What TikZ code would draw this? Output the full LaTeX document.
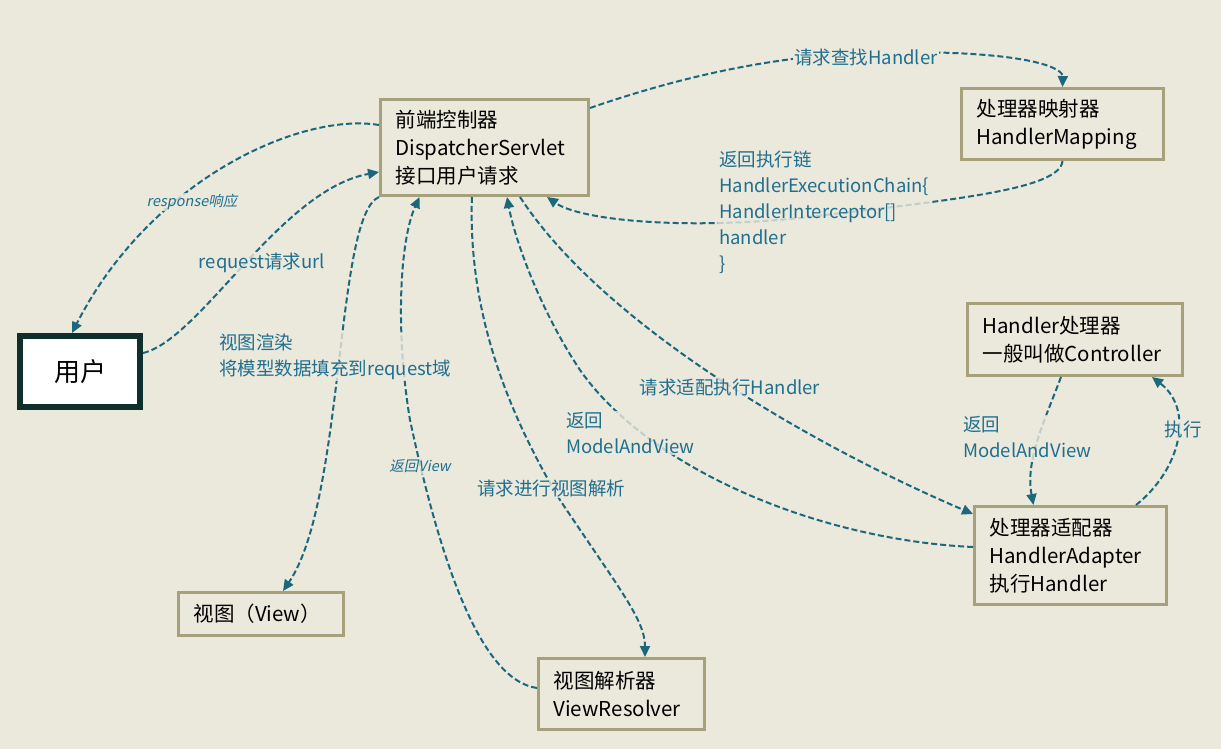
\documentclass[tikz,border=0pt]{standalone}
\usepackage{fontspec}
\setmainfont{Noto Sans CJK SC}
\newfontfamily\slantfont[FakeSlant=0.2]{Noto Sans CJK SC}
\usetikzlibrary{arrows.meta}
\definecolor{paper}{HTML}{EBE8DC}
\definecolor{boxline}{HTML}{A7A17B}
\definecolor{userline}{HTML}{0E2F2B}
\definecolor{flowline}{HTML}{1B687D}
\definecolor{flowtext}{HTML}{1F6F8F}
\tikzset{
  box/.style={draw=boxline, line width=3pt, align=left, inner xsep=15pt, inner ysep=0pt,
    font=\fontsize{20.5}{28}\selectfont},
  flow/.style={draw=flowline, line width=2pt, dash pattern=on 6pt off 3pt,
    -{Triangle[length=11pt,width=10pt]}},
  flowlabel/.style={text=flowtext, align=left, inner sep=1pt, fill=paper, fill opacity=0.8,
    text opacity=1, font=\fontsize{18.5}{26}\selectfont},
  smalllabel/.style={text=flowtext, inner sep=1pt, fill=paper, fill opacity=0.8,
    text opacity=1, font=\slantfont\fontsize{14.5}{16}\selectfont}
}
\begin{document}
\begin{tikzpicture}[x=1pt,y=-1pt]
\fill[paper] (0,0) rectangle (1221,749);
\useasboundingbox (0,0) rectangle (1221,749);
\node[box, text width=178pt, minimum height=96pt] (ds) at (484.5,147.5) {前端控制器\\DispatcherServlet\\接口用户请求};
\node[box, text width=172pt, minimum height=71pt] (hm) at (1062.5,124) {处理器映射器\\HandlerMapping};
\node[draw=userline, fill=white, line width=6pt, minimum width=120pt, minimum height=71pt,
  font=\fontsize{26}{28}\selectfont] (user) at (80,371.5) {用户};
\node[box, text width=185pt, minimum height=72pt] (hp) at (1075,339.5) {Handler处理器\\一般叫做Controller};
\node[box, text width=162pt, minimum height=98pt] (ha) at (1070.5,555.5) {处理器适配器\\HandlerAdapter\\执行Handler};
\node[box, text width=135pt, minimum height=43pt] (view) at (261,614) {视图（View）};
\node[box, text width=136pt, minimum height=71pt] (vr) at (621.5,694) {视图解析器\\ViewResolver};
\draw[flow] ([yshift=-27pt]ds.north west) .. controls (300,112) and (150,180) .. ([xshift=-8pt]user.north);
\draw[flow] ([yshift=18.5pt]user.east) .. controls (200,340) and (280,190) .. ([yshift=-24.5pt]ds.west);
\draw[flow] (ds.south west) .. controls (335,215) and (345,500) .. ([xshift=22pt]view.north);
\draw[flow] ([yshift=6pt]vr.west) .. controls (480,680) and (440,560) .. (410,420)
  .. controls (395,330) and (400,240) .. ([xshift=-65pt]ds.south);
\draw[flow] ([xshift=-12.5pt]ds.south) .. controls (468,300) and (500,400) .. (560,500)
  .. controls (620,590) and (645,620) .. ([xshift=23.5pt]vr.north);
\draw[flow] ([yshift=8.5pt]ha.west) .. controls (820,540) and (650,470) .. (580,370)
  .. controls (540,310) and (515,240) .. ([xshift=22.5pt]ds.south);
\draw[flow] ([xshift=35.5pt]ds.south) .. controls (600,320) and (800,440) .. ([yshift=-9pt]ha.north west);
\draw[flow] ([yshift=-10pt]ds.north east) .. controls (700,70) and (800,52) .. (900,52)
  .. controls (1040,52) and (1063,70) .. (hm.north);
\draw[flow] (hm.south) .. controls (1060,190) and (950,200) .. (800,218)
  .. controls (680,230) and (580,220) .. ([xshift=-43pt]ds.south east);
\draw[flow] ([xshift=-14pt]hp.south) .. controls (1045,420) and (1025,460) .. ([xshift=-37pt]ha.north);
\draw[flow] ([xshift=65.5pt]ha.north) .. controls (1180,470) and (1195,410) .. ([xshift=77pt]hp.south);
\node[smalllabel] (lresp) at (192,202) {response响应};
\node[flowlabel] (lreq) at (262,263) {request请求url};
\node[flowlabel, anchor=north west] (lrender) at (218,333) {视图渲染\\将模型数据填充到request域};
\node[smalllabel] (lview) at (420,466) {返回View};
\node[flowlabel] (lresolve) at (551,488) {请求进行视图解析};
\node[flowlabel, anchor=north west] (lmav) at (565,411) {返回\\ModelAndView};
\node[flowlabel] (ladapt) at (730,387) {请求适配执行Handler};
\node[flowlabel, fill opacity=1] (lfind) at (866,57) {请求查找Handler};
\node[flowlabel, anchor=north west] (lchain) at (718,150) {返回执行链\\HandlerExecutionChain\{\\HandlerInterceptor[]\\handler\\\}};
\node[flowlabel, anchor=north west] (lmavr) at (962,415) {返回\\ModelAndView};
\node[flowlabel] (lexec) at (1183,429) {执行};
\end{tikzpicture}
\end{document}
